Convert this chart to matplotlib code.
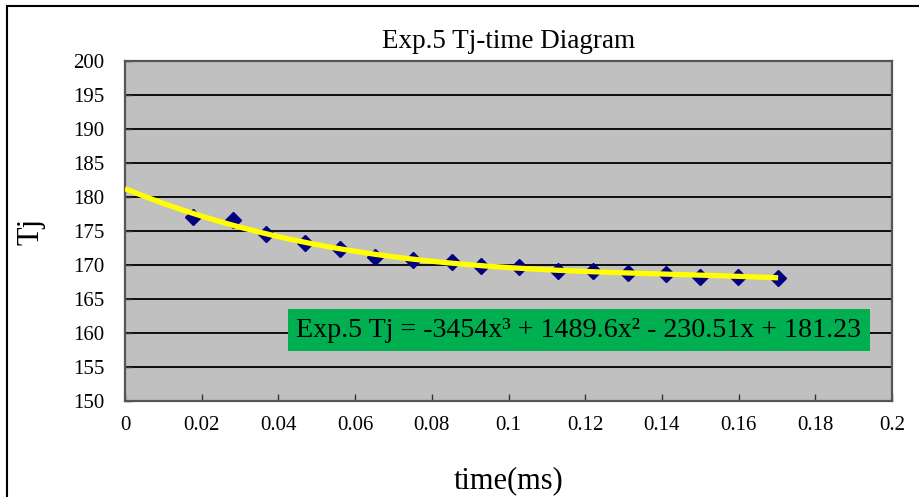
import numpy as np
import matplotlib
matplotlib.use("Agg")
import matplotlib.pyplot as plt
from matplotlib.patches import Rectangle

# Measured junction temperature over time
time_ms = [0.0177, 0.0282, 0.0368, 0.0469, 0.0561, 0.0652, 0.0751, 0.0853,
           0.0928, 0.1027, 0.1129, 0.1220, 0.1312, 0.1411, 0.1499, 0.1598, 0.1703]
tj = [177.1, 176.6, 174.6, 173.2, 172.3, 171.2, 170.7, 170.4,
      169.9, 169.7, 169.1, 169.1, 168.8, 168.7, 168.2, 168.2, 168.1]

# Cubic trendline coefficients (highest power first)
trend_coef = [-3454.0, 1489.6, -230.51, 181.23]
trend_label = "Exp.5 Tj = -3454x³ + 1489.6x² - 230.51x + 181.23"

x_ticks = [0, 0.02, 0.04, 0.06, 0.08, 0.1, 0.12, 0.14, 0.16, 0.18, 0.2]
x_tick_labels = ["0", "0.02", "0.04", "0.06", "0.08", "0.1", "0.12", "0.14",
                 "0.16", "0.18", "0.2"]
y_ticks = list(range(150, 201, 5))

serif = ["Liberation Serif", "DejaVu Serif"]
plt.rcParams["font.family"] = serif

W, H = 919, 497
fig = plt.figure(figsize=(W / 100, H / 100), dpi=100)
fig.patch.set_facecolor("white")

# Chart frame (runs off the right and bottom edges)
fig.patches.append(Rectangle((7 / W, -0.05), 1.2, 1 - 6 / H + 0.05,
                             transform=fig.transFigure, fill=False,
                             edgecolor="black", linewidth=1.5))

ax = fig.add_axes([125 / W, 1 - 401 / H, (892 - 125) / W, (401 - 61) / H])
ax.set_facecolor("#C0C0C0")

ax.set_xlim(0, 0.2)
ax.set_ylim(150, 200)
ax.set_xticks(x_ticks)
ax.set_xticklabels(x_tick_labels)
ax.set_yticks(y_ticks)

ax.grid(axis="y", color="black", linewidth=1.3)
ax.set_axisbelow(True)
for s in ax.spines.values():
    s.set_color("#555555")
    s.set_linewidth(1.6)

ax.tick_params(axis="both", direction="in", length=5, width=1, color="#333333",
               labelsize=15)
ax.tick_params(axis="x", pad=11)
ax.tick_params(axis="y", pad=15)

ax.plot(time_ms, tj, linestyle="none", marker="D", markersize=8,
        color="#000080", zorder=3)

xs = np.linspace(0, max(time_ms), 200)
ax.plot(xs, np.polyval(trend_coef, xs), color="#FFFF00", linewidth=3.8,
        solid_capstyle="butt", zorder=4)

# Trendline equation box
ax.text(0.1183, 160.4, trend_label, fontsize=20.2, ha="center", va="center",
        color="black", zorder=5,
        bbox=dict(boxstyle="square,pad=0.3", facecolor="#00B050",
                  edgecolor="none"))

ax.set_title("Exp.5 Tj-time Diagram", fontsize=19.5, pad=9)
ax.set_ylabel("Tj", fontsize=22, labelpad=20)
ax.set_xlabel("time(ms)", fontsize=22, labelpad=22)

fig.savefig("out.png", dpi=100)
